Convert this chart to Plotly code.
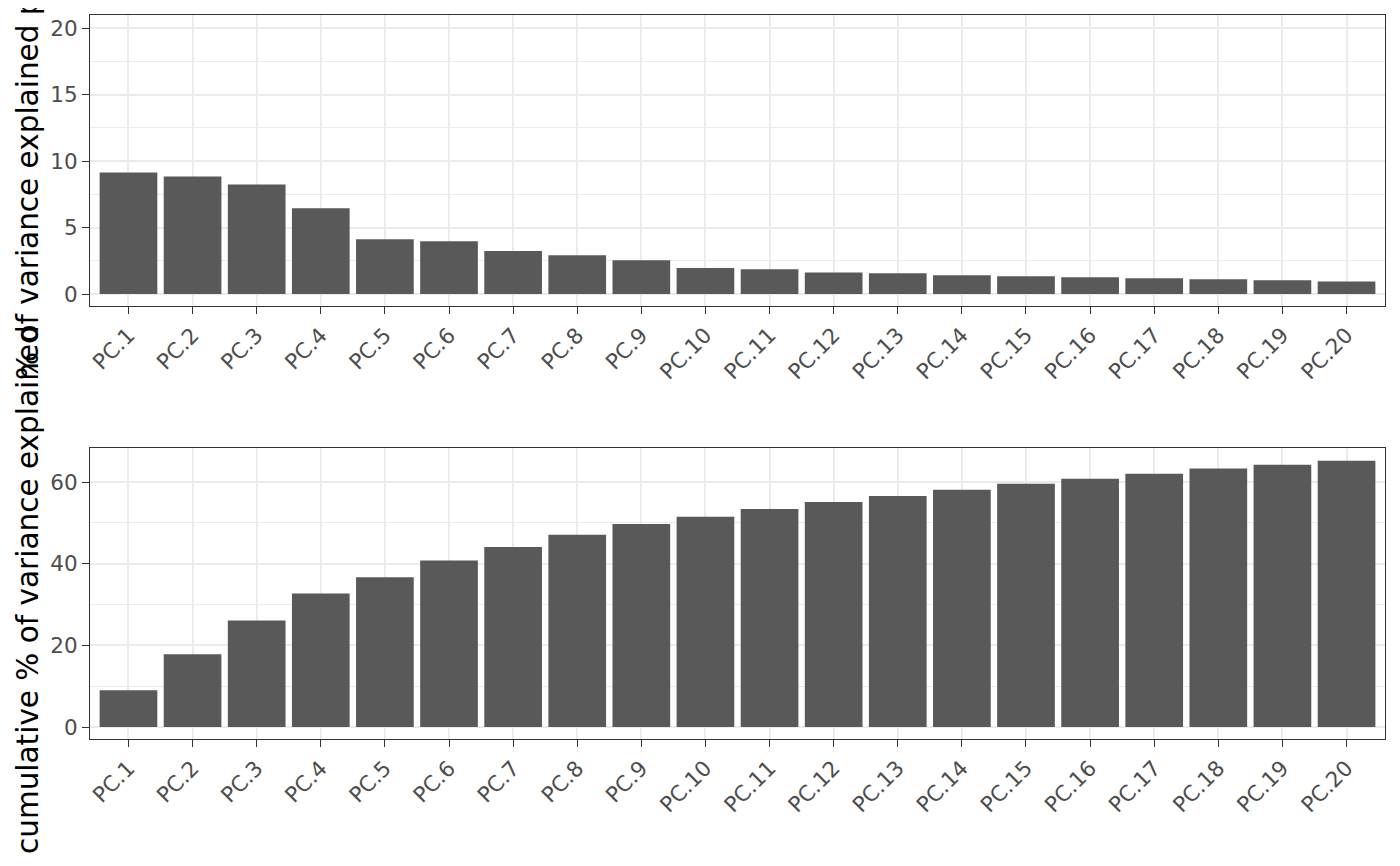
import plotly.graph_objects as go

pcs = [f"PC.{i}" for i in range(1, 21)]
var_pct = [9.15, 8.85, 8.25, 6.45, 4.13, 3.98, 3.23, 2.91, 2.54, 1.96,
           1.86, 1.63, 1.56, 1.41, 1.33, 1.26, 1.18, 1.11, 1.03, 0.95]
cum_pct = [9.0, 17.8, 26.1, 32.7, 36.65, 40.8, 44.1, 47.1, 49.7, 51.5,
           53.4, 55.1, 56.6, 58.1, 59.6, 60.8, 62.0, 63.3, 64.2, 65.2]
top_title = "% of variance explained per PC"
bottom_title = "cumulative % of variance explained"

# page has an 8px body margin; figure sized to fit inside the window
OFF = 8
W, H = 1400 - 2 * OFF, 866 - 2 * OFF
BAR = "#595959"
FONT = "DejaVu Sans"


def px(x):
    return (x - OFF) / W


def py(y):
    return 1 - (y - OFF) / H


fig = go.Figure()
fig.add_trace(go.Bar(x=pcs, y=var_pct, marker=dict(color=BAR, line=dict(width=0)),
                     xaxis="x", yaxis="y", width=0.9, showlegend=False))
fig.add_trace(go.Bar(x=pcs, y=cum_pct, marker=dict(color=BAR, line=dict(width=0)),
                     xaxis="x2", yaxis="y2", width=0.9, showlegend=False))

xdom = [px(90), px(1385)]
top_dom = [py(306), py(15)]
bot_dom = [py(739), py(448)]

xcommon = dict(
    domain=xdom, type="category", categoryorder="array", categoryarray=pcs,
    range=[-0.6, 19.6], showgrid=True, gridcolor="#ebebeb", gridwidth=2,
    showline=True, mirror=True, linecolor="#333333", linewidth=1.1,
    ticks="outside", ticklen=7, tickwidth=1.1, tickcolor="#333333",
    tickangle=-45, tickfont=dict(family=FONT, size=21.5, color="#4d4d4d"),
    zeroline=False, fixedrange=True, automargin=False,
)
ycommon = dict(
    showgrid=True, gridcolor="#ebebeb", gridwidth=2,
    showline=True, mirror=True, linecolor="#333333", linewidth=1.1,
    ticks="outside", ticklen=7, tickwidth=1.1, tickcolor="#333333",
    tickfont=dict(family=FONT, size=21.5, color="#4d4d4d"),
    zeroline=False, fixedrange=True, automargin=False,
)

fig.update_layout(
    width=W, height=H, margin=dict(l=0, r=0, t=0, b=0),
    paper_bgcolor="white", plot_bgcolor="white", bargap=0.1,
    font=dict(family=FONT),
    xaxis=dict(xcommon, anchor="y"),
    yaxis=dict(ycommon, domain=top_dom, anchor="x", range=[-0.9, 21],
               tickvals=[0, 5, 10, 15, 20],
               minor=dict(tickvals=[2.5, 7.5, 12.5, 17.5], showgrid=True,
                          gridcolor="#ebebeb", gridwidth=1, ticks="")),
    xaxis2=dict(xcommon, anchor="y2"),
    yaxis2=dict(ycommon, domain=bot_dom, anchor="x2", range=[-2.94, 68.33],
                tickvals=[0, 20, 40, 60],
                minor=dict(tickvals=[10, 30, 50], showgrid=True,
                           gridcolor="#ebebeb", gridwidth=1, ticks="")),
    annotations=[
        dict(text=top_title, xref="paper", yref="paper", x=px(28), y=py(149),
             xanchor="center", yanchor="middle", textangle=-90, showarrow=False,
             font=dict(family=FONT, size=29.5, color="black"), borderpad=0),
        dict(text=bottom_title, xref="paper", yref="paper", x=px(28), y=py(590),
             xanchor="center", yanchor="middle", textangle=-90, showarrow=False,
             font=dict(family=FONT, size=29.5, color="black"), borderpad=0),
    ],
)

fig.write_html("out.html")
